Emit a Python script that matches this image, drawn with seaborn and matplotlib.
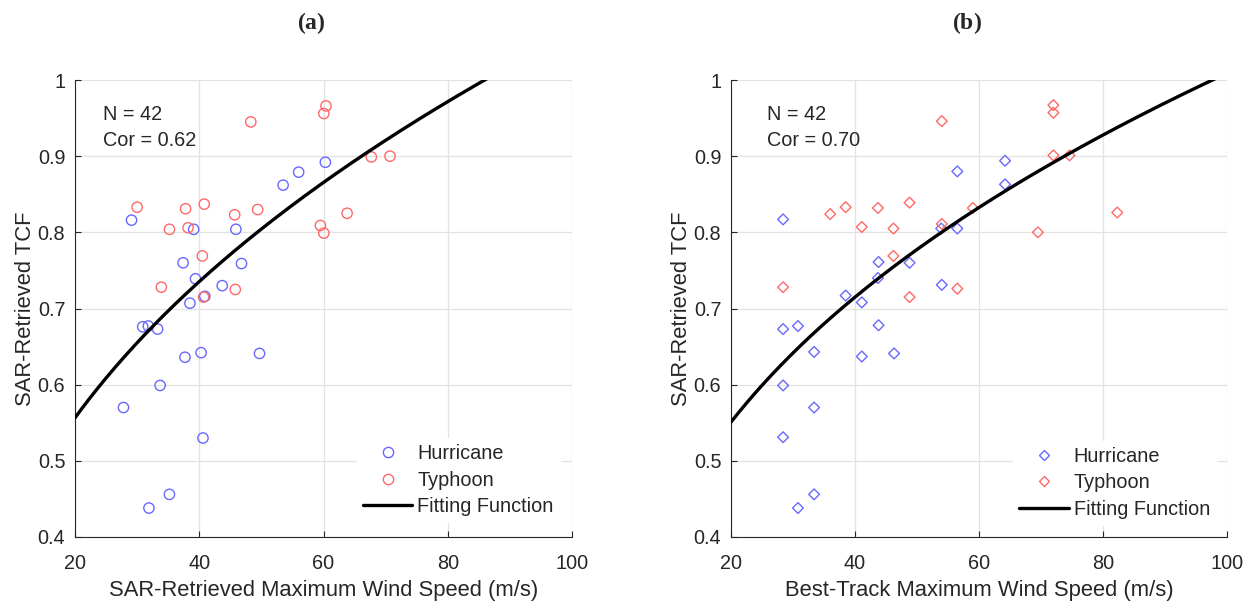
import numpy as np
import pandas as pd
import matplotlib
matplotlib.use("Agg")
import matplotlib.pyplot as plt
from matplotlib.lines import Line2D
import seaborn as sns

# ---------------- data ----------------
# Panel (a): SAR-retrieved max wind speed (m/s) vs SAR-retrieved TCF
hur_sar_ws = [60.3, 56.0, 53.5, 29.1, 39.1, 45.9, 37.4, 46.8, 39.4, 43.7, 40.9, 38.5,
              30.9, 31.8, 33.3, 37.7, 40.3, 49.7, 33.7, 27.8, 40.6, 35.2, 31.9]
hur_sar_tcf = [0.892, 0.879, 0.862, 0.816, 0.804, 0.804, 0.760, 0.759, 0.739, 0.730, 0.716, 0.707,
               0.676, 0.677, 0.673, 0.636, 0.642, 0.641, 0.599, 0.570, 0.530, 0.456, 0.438]
typ_sar_ws = [60.4, 60.05, 48.3, 30.0, 37.8, 40.8, 45.7, 49.4, 35.2, 38.2, 40.5, 33.9,
              45.8, 40.7, 67.7, 70.7, 63.8, 59.5, 60.05]
typ_sar_tcf = [0.966, 0.956, 0.945, 0.833, 0.831, 0.837, 0.823, 0.830, 0.804, 0.806, 0.769, 0.728,
               0.725, 0.715, 0.899, 0.900, 0.825, 0.809, 0.799]

# Panel (b): Best-track max wind speed (m/s) vs SAR-retrieved TCF
hur_bt_ws = [28.4, 53.9, 56.5, 56.5, 43.8, 48.8, 43.7, 54.0, 38.5, 41.1, 28.4, 30.8,
             43.8, 33.4, 41.1, 46.3, 28.4, 33.4, 28.4, 33.4, 30.8, 64.2, 64.2]
hur_bt_tcf = [0.817, 0.805, 0.805, 0.880, 0.761, 0.760, 0.740, 0.731, 0.717, 0.708, 0.673, 0.677,
              0.678, 0.643, 0.637, 0.641, 0.599, 0.570, 0.531, 0.456, 0.438, 0.894, 0.863]
typ_bt_ws = [36.0, 38.5, 43.7, 48.8, 41.1, 46.2, 54.0, 54.0, 46.2, 28.4, 56.5, 48.8,
             72.0, 72.0, 72.0, 74.6, 59.0, 82.3, 69.5]
typ_bt_tcf = [0.824, 0.833, 0.832, 0.839, 0.807, 0.805, 0.946, 0.811, 0.769, 0.728, 0.726, 0.715,
              0.967, 0.957, 0.901, 0.901, 0.832, 0.826, 0.800]

# Fitting functions TCF = a * V^b
fit_a = (0.1669, 0.402)
fit_b = (0.1786, 0.376)

x_ticks = [20, 40, 60, 80, 100]
y_ticks = [0.4, 0.5, 0.6, 0.7, 0.8, 0.9, 1.0]
y_ticklabels = ["0.4", "0.5", "0.6", "0.7", "0.8", "0.9", "1"]

x_labels = ["SAR-Retrieved Maximum Wind Speed (m/s)", "Best-Track Maximum Wind Speed (m/s)"]
y_label = "SAR-Retrieved TCF"
stats = ["Cor = 0.62", "Cor = 0.70"]
n_text = "N = 42"
series_names = ["Hurricane", "Typhoon", "Fitting Function"]

# ---------------- style ----------------
sns.set_theme(style="white")
plt.rcParams["font.family"] = ["Liberation Sans", "DejaVu Sans"]
plt.rcParams["mathtext.fontset"] = "custom"
plt.rcParams["mathtext.rm"] = "Liberation Serif"
plt.rcParams["mathtext.bf"] = "Liberation Serif:bold"

BLUE = "#6868ff"
RED = "#ff6868"
DARK = "#262626"
GRID = "#e3e3e3"
FS = 14.3
FS_LAB = 15.8

fig = plt.figure(figsize=(12.51, 6.02), dpi=100)
ax_a = fig.add_axes([75 / 1251, 65 / 602, 497 / 1251, 457 / 602])
ax_b = fig.add_axes([731 / 1251, 65 / 602, 496 / 1251, 457 / 602])

panels = [
    (ax_a, hur_sar_ws, hur_sar_tcf, typ_sar_ws, typ_sar_tcf, fit_a, "o", 55,
     0.056, (0.567, 0.032)),
    (ax_b, hur_bt_ws, hur_bt_tcf, typ_bt_ws, typ_bt_tcf, fit_b, "D", 30,
     0.072, (0.569, 0.027)),
]

for i, (ax, hx, hy, tx, ty, fit, mk, ms, txt_x, leg_anchor) in enumerate(panels):
    dfh = pd.DataFrame({"ws": hx, "tcf": hy})
    dft = pd.DataFrame({"ws": tx, "tcf": ty})
    sns.scatterplot(data=dfh, x="ws", y="tcf", ax=ax, marker=mk, s=ms,
                    facecolors="none", edgecolors=BLUE, linewidth=1.0, zorder=3)
    sns.scatterplot(data=dft, x="ws", y="tcf", ax=ax, marker=mk, s=ms,
                    facecolors="none", edgecolors=RED, linewidth=1.0, zorder=3)
    xs = np.linspace(20, 100, 200)
    ys = fit[0] * xs ** fit[1]
    sns.lineplot(x=xs, y=ys, ax=ax, color="black", linewidth=2.4, zorder=4)

    ax.set_xlim(20, 100)
    ax.set_ylim(0.4, 1.0)
    ax.set_xticks(x_ticks)
    ax.set_xticklabels([str(v) for v in x_ticks])
    ax.set_yticks(y_ticks)
    ax.set_yticklabels(y_ticklabels)
    ax.grid(True, color=GRID, linewidth=0.9)
    ax.set_axisbelow(True)
    for s in ["top", "right"]:
        ax.spines[s].set_visible(False)
    for s in ["left", "bottom"]:
        ax.spines[s].set_color(DARK)
        ax.spines[s].set_linewidth(0.8)
    ax.tick_params(direction="in", length=4, width=0.8, color=DARK,
                   labelsize=FS, labelcolor=DARK, left=True, bottom=True)
    ax.tick_params(axis="x", pad=12.5)
    ax.tick_params(axis="y", pad=7)
    ax.set_xlabel(x_labels[i], fontsize=FS_LAB, color=DARK, labelpad=4.5)
    ax.set_ylabel(y_label, fontsize=FS_LAB, color=DARK, labelpad=1.5)

    ax.text(txt_x, (537 - 114) / 457, n_text, transform=ax.transAxes,
            fontsize=FS, color=DARK, va="center", ha="left")
    ax.text(txt_x, (537 - 140) / 457, stats[i], transform=ax.transAxes,
            fontsize=FS, color=DARK, va="center", ha="left")

    handles = [
        Line2D([], [], linestyle="none", marker=mk, markersize=np.sqrt(ms),
               markerfacecolor="none", markeredgecolor=BLUE, markeredgewidth=1.0),
        Line2D([], [], linestyle="none", marker=mk, markersize=np.sqrt(ms),
               markerfacecolor="none", markeredgecolor=RED, markeredgewidth=1.0),
        Line2D([], [], color="black", linewidth=2.4),
    ]
    leg = ax.legend(handles, series_names, loc="lower left",
                    bbox_to_anchor=leg_anchor, fontsize=FS,
                    frameon=True, facecolor="white", edgecolor="white", framealpha=1,
                    handlelength=2.5, handletextpad=0.25, labelspacing=0.38,
                    borderpad=0.3, borderaxespad=0.0, fancybox=False)
    for t in leg.get_texts():
        t.set_color(DARK)

fig.text(311 / 1251, 1 - 23 / 602, r"($\mathbf{a}$)", ha="center", va="center",
         fontsize=17, fontfamily="Liberation Serif", fontweight="bold")
fig.text(967 / 1251, 1 - 23 / 602, r"($\mathbf{b}$)", ha="center", va="center",
         fontsize=17, fontfamily="Liberation Serif", fontweight="bold")

fig.savefig("out.png", dpi=100, facecolor="white")
